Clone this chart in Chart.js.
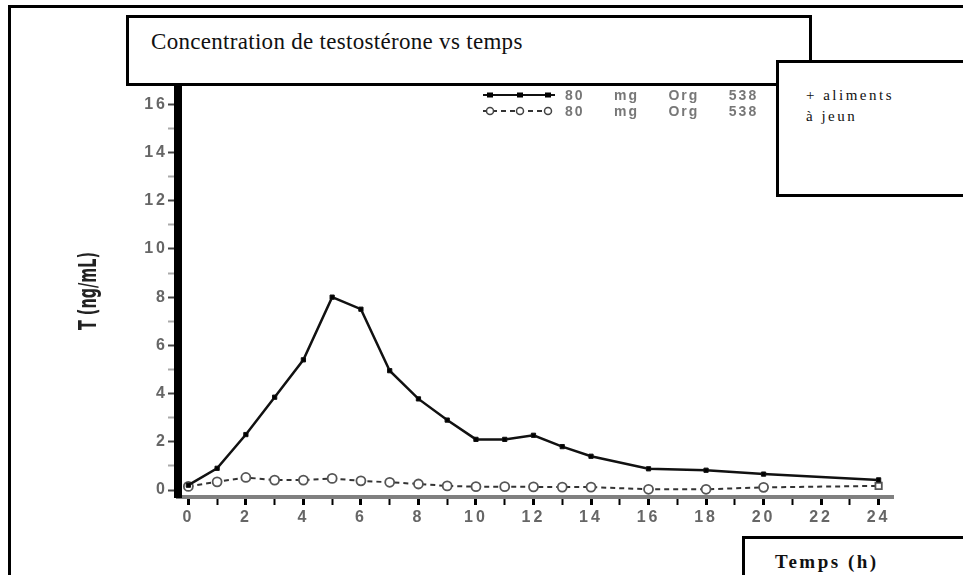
<!DOCTYPE html>
<html>
<head>
<meta charset="utf-8">
<script src="https://cdn.jsdelivr.net/npm/chart.js@4/dist/chart.umd.min.js"></script>
<style>
  body { margin: 0; background: #fff; overflow: hidden; }
  #wrap { position: relative; width: 963px; height: 575px; overflow: hidden; }
  #mycanvas { position: absolute; left: 0; top: 0; }
  .box { position: absolute; background: #fff; border: 3px solid #000; box-sizing: border-box; font-family: "Liberation Serif", "Times New Roman", serif; color: #111; }
  #frame { position: absolute; left: 8px; top: 5px; width: 1000px; height: 600px; border-top: 3px solid #000; border-left: 3px solid #000; }
  #titlebox { left: 126px; top: 15px; width: 686px; height: 71px; font-size: 23px; padding: 11px 0 0 22px; letter-spacing: 0.3px; }
  #notebox { left: 776px; top: 60px; width: 220px; height: 137px; font-size: 15px; line-height: 21px; padding: 22px 0 0 27px; letter-spacing: 2.5px; }
  #xbox { left: 742px; top: 536px; width: 260px; height: 80px; font-size: 19px; font-weight: bold; padding: 12px 0 0 30px; letter-spacing: 2.5px; }
</style>
</head>
<body>
<div id="wrap">
  <div id="frame"></div>
  <canvas id="mycanvas" width="963" height="575"></canvas>
  <div class="box" id="titlebox">Concentration de testostérone vs temps</div>
  <div class="box" id="notebox">+ aliments<br>à jeun</div>
  <div class="box" id="xbox">Temps (h)</div>
</div>
<script>
// temps (h)
var hours = [0, 1, 2, 3, 4, 5, 6, 7, 8, 9, 10, 11, 12, 13, 14, 16, 18, 20, 24];
// T (ng/mL)
var fed = [0.2, 0.9, 2.3, 3.85, 5.4, 8.0, 7.5, 4.95, 3.78, 2.9, 2.1, 2.1, 2.27, 1.8, 1.4, 0.88, 0.82, 0.66, 0.42];
var fasted = [0.15, 0.34, 0.52, 0.41, 0.41, 0.48, 0.38, 0.32, 0.25, 0.17, 0.14, 0.14, 0.13, 0.12, 0.12, 0.03, 0.03, 0.11, 0.17];
var seriesLabels = ['80     mg     Org     538', '80     mg     Org     538'];
var yTitle = 'T (ng/mL)';
var xTicks = [0, 1, 2, 3, 4, 5, 6, 7, 8, 9, 10, 11, 12, 13, 14, 15, 16, 17, 18, 19, 20, 21, 22, 23, 24];
var yTicks = [0, 1, 2, 3, 4, 5, 6, 7, 8, 9, 10, 11, 12, 13, 14, 15, 16];

function pts(xs, ys) {
  var out = [];
  for (var i in xs) {
    out.push({x: xs[i], y: ys[i]});
  }
  return out;
}

// legende dessinee a la main (trait + 3 marqueurs) + titre vertical serre
var extras = {
  id: 'extras',
  beforeDraw: function(chart) {
    chart.ctx.letterSpacing = '3px';
  },
  afterDraw: function(chart) {
    var ctx = chart.ctx;
    var sets = chart.data.datasets;
    ctx.save();
    for (var i = 0; i < sets.length; i++) {
      var ds = sets[i];
      var y = 95 + i * 16;
      ctx.strokeStyle = ds.borderColor;
      ctx.lineWidth = 2;
      ctx.setLineDash(ds.borderDash || []);
      ctx.beginPath();
      ctx.moveTo(483, y);
      ctx.lineTo(555, y);
      ctx.stroke();
      ctx.setLineDash([]);
      [490, 520, 548].forEach(function(mx) {
        ctx.beginPath();
        if (i === 0) {
          ctx.fillStyle = '#000';
          ctx.fillRect(mx - 3, y - 2.5, 6, 5);
        } else {
          ctx.fillStyle = '#fff';
          ctx.strokeStyle = '#444';
          ctx.lineWidth = 1.5;
          ctx.arc(mx, y, 3.5, 0, Math.PI * 2);
          ctx.fill();
          ctx.stroke();
        }
      });
      ctx.fillStyle = '#777';
      ctx.font = 'bold 14px "Liberation Sans", Arial, sans-serif';
      ctx.letterSpacing = '2px';
      ctx.textBaseline = 'middle';
      ctx.fillText(ds.label, 565, y + 1);
    }
    ctx.restore();

    // titre de l'axe y
    var a = chart.chartArea;
    ctx.save();
    ctx.letterSpacing = '0px';
    ctx.font = 'bold 24px "Liberation Sans Narrow", "DejaVu Sans Condensed", Arial, sans-serif';
    var w = ctx.measureText(yTitle).width;
    ctx.translate(90, (a.top + a.bottom) / 2);
    ctx.rotate(-Math.PI / 2);
    ctx.scale(78 / w, 1);
    ctx.fillStyle = '#222';
    ctx.textAlign = 'center';
    ctx.textBaseline = 'middle';
    ctx.fillText(yTitle, 0, 0);
    ctx.restore();
  }
};

var chartdata = {
  datasets: [
    {
      label: seriesLabels[0],
      data: pts(hours, fed),
      borderColor: '#111',
      borderWidth: 2.5,
      backgroundColor: '#000',
      pointStyle: 'rect',
      pointRadius: 3,
      pointBorderWidth: 1,
      tension: 0
    },
    {
      label: seriesLabels[1],
      data: pts(hours, fasted),
      borderColor: '#333',
      borderWidth: 2,
      borderDash: [5, 4],
      backgroundColor: '#fff',
      pointBorderColor: '#555',
      pointBackgroundColor: '#fff',
      pointStyle: function(c) { return c.dataIndex === hours.length - 1 ? 'rect' : 'circle'; },
      pointRadius: 4.5,
      pointBorderWidth: 1.8,
      tension: 0
    }
  ]
};

var ctx = document.getElementById('mycanvas');

var lineGraph = new Chart(ctx, {
  type: 'line',
  data: chartdata,
  plugins: [extras],
  options: {
    responsive: false,
    animation: false,
    layout: { padding: { top: 85, right: 70, left: 0, bottom: 0 } },
    plugins: { legend: { display: false }, tooltip: { enabled: false } },
    scales: {
      x: {
        type: 'linear',
        min: -0.36,
        max: 24.5,
        afterBuildTicks: function(scale) {
          scale.ticks = xTicks.map(function(v) { return {value: v}; });
        },
        afterFit: function(scale) { scale.height = 78; },
        border: { color: '#808080', width: 4 },
        grid: {
          drawOnChartArea: false,
          tickLength: 8,
          tickColor: '#000',
          tickWidth: function(c) { return c.tick && c.tick.value % 2 === 0 ? 3 : 2; }
        },
        ticks: {
          autoSkip: false,
          maxRotation: 0,
          padding: 3,
          color: '#666',
          font: { family: '"Liberation Sans", Arial, sans-serif', size: 16, weight: 'bold' },
          callback: function(v) { return v % 2 === 0 ? v : ''; }
        }
      },
      y: {
        min: -0.29,
        max: 16.8,
        afterBuildTicks: function(scale) {
          scale.ticks = yTicks.map(function(v) { return {value: v}; });
        },
        afterFit: function(scale) { scale.width = 178; },
        border: { color: '#000', width: 8 },
        grid: {
          drawOnChartArea: false,
          tickLength: 10,
          tickColor: function(c) { return c.tick && c.tick.value % 2 === 0 ? '#444' : '#aaa'; },
          tickWidth: 2
        },
        ticks: {
          autoSkip: false,
          padding: 0,
          color: '#666',
          font: { family: '"Liberation Sans", Arial, sans-serif', size: 16, weight: 'bold' },
          callback: function(v) { return v % 2 === 0 ? v : ''; }
        }
      }
    }
  }
});
</script>
</body>
</html>
